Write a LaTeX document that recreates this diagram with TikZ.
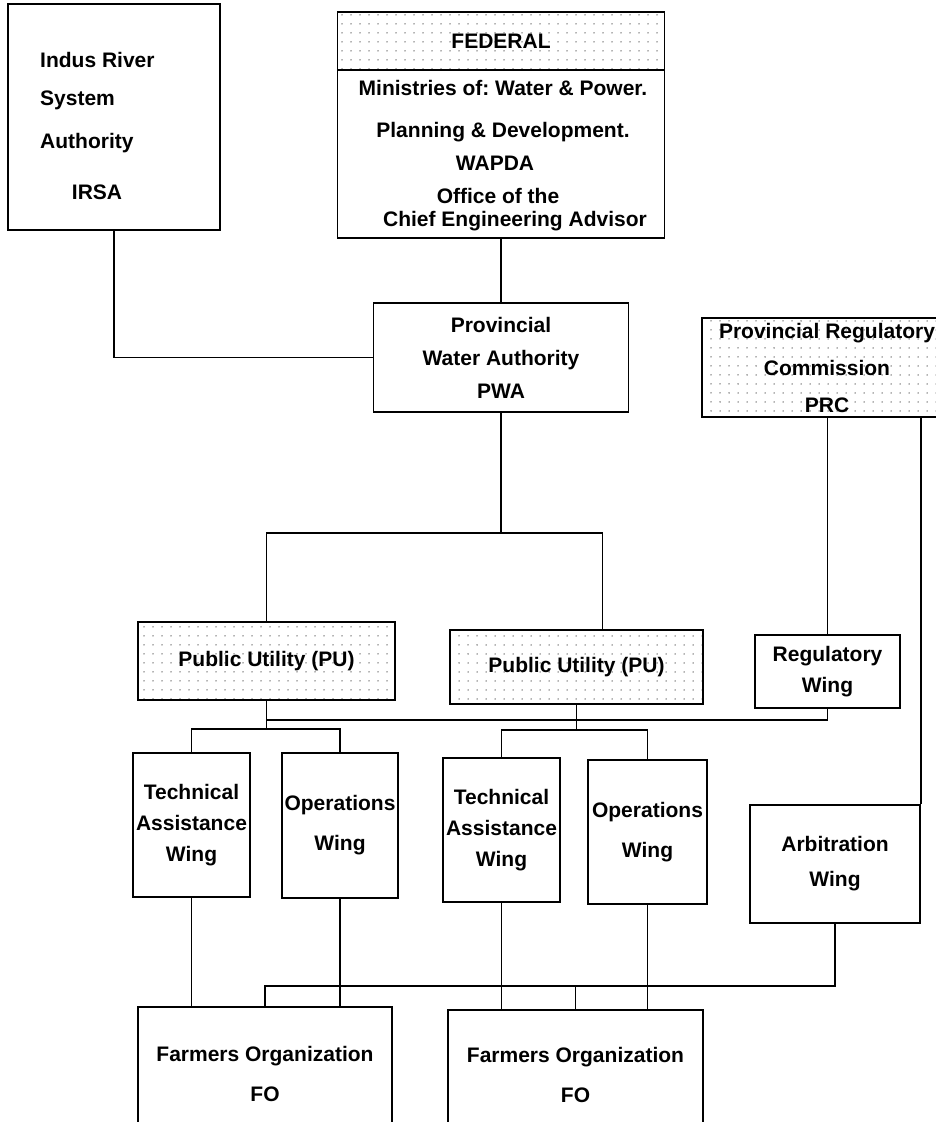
\documentclass[tikz,border=0pt]{standalone}
\usepackage{fontspec}
\setmainfont{Liberation Sans}
\usetikzlibrary{patterns.meta}
\frenchspacing
\begin{document}
\begin{tikzpicture}[x=1pt, y=-1pt,
        box/.style={draw, shape=rectangle, line width=1.6pt, inner sep=0pt, align=center, font=\bfseries\fontsize{21}{31}\selectfont},
        dotbox/.style={box, pattern={Dots[distance=9pt, radius=0.75pt]}, pattern color=black!60},
        txt/.style={inner sep=0pt, font=\bfseries\fontsize{21}{25}\selectfont},
        link/.style={line width=1.6pt}]
            \def\busPWA{533}
            \def\busPU{720}
            \def\forkA{729}
            \def\forkB{730}
            \def\busFO{986}
            \useasboundingbox (0,0) rectangle (936,1122);
            \clip (0,0) rectangle (936,1122);
            \node[box, minimum width=212pt, minimum height=226pt] (irsa) at (114,117) {};
            \node[txt, anchor=west] (irsaA) at (40,60) {Indus River};
            \node[txt, anchor=west] (irsaB) at (40,100) {System};
            \node[txt, anchor=west] (irsaC) at (40,143) {Authority};
            \node[txt] (irsaD) at (97,192) {IRSA};
            \node[box, minimum width=327pt, minimum height=226pt] (fed) at (501,125) {};
            \node[dotbox, minimum width=327pt, minimum height=58pt] (fedhead) at (501,41) {FEDERAL};
            \node[txt] (fedA) at (503,88) {Ministries of: Water \& Power.};
            \node[txt] (fedB) at (503,132) {Planning \& Development.};
            \node[txt] (fedC) at (495,163) {WAPDA};
            \node[txt] (fedD) at (498,196) {Office of the};
            \node[txt] (fedE) at (515,221) {Chief Engineering Advisor};
            \node[box, minimum width=255pt, minimum height=109pt, font=\bfseries\fontsize{21}{33}\selectfont] (pwa) at (501,357.5) {Provincial\\Water Authority\\PWA};
            \node[dotbox, minimum width=250pt, minimum height=99pt, font=\bfseries\fontsize{21}{37}\selectfont] (prc) at (827,367.5) {Provincial Regulatory\\Commission\\PRC};
            \node[dotbox, minimum width=257pt, minimum height=78pt] (pu1) at (266.5,661) {Public Utility (PU)};
            \node[dotbox, minimum width=253pt, minimum height=74pt] (pu2) at (576.5,667) {Public Utility (PU)};
            \node[box, minimum width=145pt, minimum height=73pt] (reg) at (827.5,671.5) {Regulatory\\Wing};
            \node[box, minimum width=117pt, minimum height=144pt] (ta1) at (191.5,825) {Technical\\Assistance\\Wing};
            \node[box, minimum width=116pt, minimum height=145pt, font=\bfseries\fontsize{21}{40}\selectfont] (ops1) at (340,825.5) {Operations\\Wing};
            \node[box, minimum width=117pt, minimum height=144pt] (ta2) at (501.5,830) {Technical\\Assistance\\Wing};
            \node[box, minimum width=119pt, minimum height=144pt, font=\bfseries\fontsize{21}{40}\selectfont] (ops2) at (647.5,832) {Operations\\Wing};
            \node[box, minimum width=170pt, minimum height=118pt, font=\bfseries\fontsize{21}{35}\selectfont] (arb) at (835,864) {Arbitration\\Wing};
            \node[box, minimum width=254pt, minimum height=133pt, font=\bfseries\fontsize{21}{40}\selectfont] (fo1) at (265,1073.5) {Farmers Organization\\FO};
            \node[box, minimum width=255pt, minimum height=130pt, font=\bfseries\fontsize{21}{40}\selectfont] (fo2) at (575.5,1075) {Farmers Organization\\FO};
            \draw[link] (irsa.south) |- (pwa.west);
            \draw[link] (fed.south) -- (pwa.north);
            \draw[link] (pwa.south) -- (pwa.south |- 0,\busPWA);
            \draw[link] (pu1.north) -- (pu1.north |- 0,\busPWA) -- ([xshift=26pt]pu2.north |- 0,\busPWA) -- ([xshift=26pt]pu2.north);
            \draw[link] (prc.south -| reg.north) -- (reg.north);
            \draw[link] (prc.south -| arb.north east) -- (arb.north east);
            \draw[link] (pu1.south) -- (pu1.south |- 0,\forkA);
            \draw[link] (pu2.south) -- (pu2.south |- 0,\forkB);
            \draw[link] (pu1.south |- 0,\busPU) -- (reg.south |- 0,\busPU) -- (reg.south);
            \draw[link] (ta1.north) -- (ta1.north |- 0,\forkA) -- (ops1.north |- 0,\forkA) -- (ops1.north);
            \draw[link] (ta2.north) -- (ta2.north |- 0,\forkB) -- (ops2.north |- 0,\forkB) -- (ops2.north);
            \draw[link] (ta1.south) -- (ta1.south |- fo1.north);
            \draw[link] (ops1.south) -- (ops1.south |- fo1.north);
            \draw[link] (ta2.south) -- (ta2.south |- fo2.north);
            \draw[link] (ops2.south) -- (ops2.south |- fo2.north);
            \draw[link] (arb.south) -- (arb.south |- 0,\busFO) -- (fo1.north |- 0,\busFO) -- (fo1.north);
            \draw[link] (fo2.north |- 0,\busFO) -- (fo2.north);
        \end{tikzpicture}
\end{document}
